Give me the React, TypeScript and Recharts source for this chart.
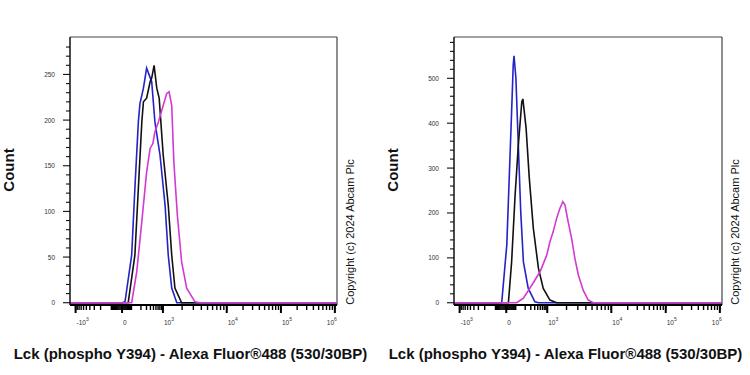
import React from 'react';
import { LineChart, Line, XAxis, YAxis, ReferenceLine } from 'recharts';

const FONT = '"Liberation Sans", Arial, Helvetica, sans-serif';

// Biexponential x axis: positions are display channels (0–1000 across the plot)
const xMajorChannels = [21, 195, 348, 587, 790, 992];
const xMajorBase = ['-10', '0', '10', '10', '10', '10'];
const xMajorExp = ['3', '', '3', '4', '5', '6'];

// Left panel histograms (x = display channel, y = count)
const leftBlueX = [0, 195, 206, 231, 243, 256, 262, 275, 287, 297, 306, 318, 337, 356, 368, 381, 400, 1000];
const leftBlueY = [0, 0, 1, 52, 125, 198, 218, 235, 257, 249, 242, 198, 162, 107, 52, 16, 0, 0];
const leftBlackX = [0, 218, 243, 256, 269, 275, 287, 300, 306, 315, 325, 334, 349, 368, 381, 393, 418, 1000];
const leftBlackY = [0, 0, 52, 125, 198, 220, 224, 242, 246, 260, 235, 224, 162, 107, 52, 16, 0, 0];
const leftMagentaX = [0, 231, 250, 269, 287, 300, 310, 318, 331, 349, 362, 371, 381, 389, 402, 418, 437, 468, 487, 1000];
const leftMagentaY = [0, 0, 34, 89, 143, 169, 174, 187, 198, 216, 229, 231, 216, 154, 96, 45, 16, 1, 0, 0];

// Right panel histograms
const rightBlueX = [0, 178, 197, 206, 215, 221, 224, 231, 240, 249, 259, 277, 302, 315, 1000];
const rightBlueY = [0, 0, 129, 277, 426, 530, 550, 500, 351, 203, 91, 32, 2, 0, 0];
const rightBlackX = [0, 203, 215, 228, 240, 253, 257, 269, 281, 296, 315, 333, 358, 383, 1000];
const rightBlackY = [0, 0, 91, 240, 351, 448, 454, 389, 277, 166, 77, 32, 6, 0, 0];
const rightMagentaX = [0, 234, 259, 290, 321, 346, 358, 370, 383, 395, 406, 414, 426, 439, 451, 464, 482, 501, 520, 1000];
const rightMagentaY = [0, 0, 10, 39, 69, 106, 136, 158, 188, 210, 225, 218, 180, 143, 99, 62, 28, 6, 0, 0];

const BLUE = '#2323c8';
const BLACK = '#111111';
const MAGENTA = '#d23ad2';

const xAxisTitle = 'Lck (phospho Y394) - Alexa Fluor®488 (530/30BP)';
const yAxisTitle = 'Count';
const copyright = 'Copyright (c) 2024 Abcam Plc';

function zip(xs: number[], ys: number[]) {
  return xs.map((x, i) => ({ x, y: ys[i] }));
}

function buildXMinor(): number[] {
  const [pNeg, p0, p3, p4, p5, p6] = xMajorChannels;
  const frac = (v: number) => (Math.log10(v) - 1.7) / 1.3;
  const p100 = p0 + (p3 - p0) * frac(100);
  const pm100 = p0 - (p0 - pNeg) * frac(100);
  const out: number[] = [];
  for (let k = 1; k <= 9; k++) {
    out.push(Math.round((p0 + (p3 - p0) * frac(k * 100)) * 10) / 10);
    out.push(Math.round((p0 - (p0 - pNeg) * frac(k * 100)) * 10) / 10);
    out.push(Math.round((p0 + ((p100 - p0) * k) / 10) * 10) / 10);
    out.push(Math.round((p0 - ((p0 - pm100) * k) / 10) * 10) / 10);
  }
  [[p3, p4], [p4, p5], [p5, p6]].forEach(([a, b]) => {
    for (let k = 2; k <= 9; k++) out.push(Math.round((a + (b - a) * Math.log10(k)) * 10) / 10);
  });
  return out;
}

const xTicks = [...xMajorChannels, ...buildXMinor()].sort((a, b) => a - b);

const renderXTick = (props: any) => {
  const { x, y, payload } = props;
  const mi = xMajorChannels.indexOf(payload.value);
  const major = mi >= 0;
  const last = mi === xMajorChannels.length - 1;
  if (!major) return <g />;
  return (
    <g>
      <rect x={x - 1} y={y - 5} width={2} height={8} fill="#000" stroke="none" />
      <text
        x={last ? x + 2 : x + 1}
        y={y + 15}
        textAnchor={last ? 'end' : 'start'}
        fontSize={6.5}
        fontFamily={FONT}
        fill="#333"
        stroke="none"
      >
        {xMajorBase[mi]}
        {xMajorExp[mi] && (
          <tspan fontSize={5} dy={-4}>
            {xMajorExp[mi]}
          </tspan>
        )}
      </text>
    </g>
  );
};

const makeYTick = (step: number) => (props: any) => {
  const { x, y, payload } = props;
  const major = payload.value % step === 0;
  return (
    <g>
      <rect x={x - (major ? 7 : 4)} y={y - 0.55} width={major ? 7 : 4} height={1.1} fill="#111" stroke="none" />
      {major && (
        <text x={x - 15} y={y} textAnchor="end" dominantBaseline="central" fontSize={6.5} fontFamily={FONT} fill="#333" stroke="none">
          {payload.value}
        </text>
      )}
    </g>
  );
};

function range(start: number, end: number, step: number) {
  const r: number[] = [];
  for (let v = start; v <= end; v += step) r.push(v);
  return r;
}

type PanelProps = {
  yAxisWidth: number;
  marginRight: number;
  yDomain: [number, number];
  yTicks: number[];
  yStep: number;
  blue: { x: number; y: number }[];
  black: { x: number; y: number }[];
  magenta: { x: number; y: number }[];
};

function Panel(p: PanelProps) {
  return (
    <LineChart width={375} height={375} margin={{ top: 37, right: p.marginRight, bottom: 40, left: 0 }}>
      <XAxis
        type="number"
        dataKey="x"
        domain={[0, 1000]}
        ticks={xTicks}
        interval={0}
        minTickGap={0}
        tickSize={5}
        tickMargin={0}
        tickLine={{ stroke: '#000', strokeWidth: 1.4 }}
        tick={renderXTick}
        height={30}
        axisLine={{ stroke: '#000', strokeWidth: 2 }}
        allowDataOverflow
      />
      <YAxis
        type="number"
        dataKey="y"
        domain={p.yDomain}
        ticks={p.yTicks}
        interval={0}
        tickSize={0}
        tickMargin={0}
        tickLine={false}
        tick={makeYTick(p.yStep)}
        width={p.yAxisWidth}
        axisLine={{ stroke: '#111', strokeWidth: 1.5 }}
        allowDataOverflow
      />
      <ReferenceLine y={p.yDomain[1]} stroke="#444" strokeWidth={1.2} />
      <ReferenceLine x={1000} stroke="#444" strokeWidth={1.2} />
      <Line data={p.blue} dataKey="y" type="linear" stroke={BLUE} strokeWidth={1.6} dot={false} isAnimationActive={false} />
      <Line data={p.black} dataKey="y" type="linear" stroke={BLACK} strokeWidth={1.6} dot={false} isAnimationActive={false} />
      <Line data={p.magenta} dataKey="y" type="linear" stroke={MAGENTA} strokeWidth={1.6} dot={false} isAnimationActive={false} />
    </LineChart>
  );
}

export default function App() {
  return (
    <div style={{ position: 'absolute', left: 0, top: 0, width: 750, height: 375, background: '#fff', overflow: 'hidden' }}>
      <div style={{ position: 'absolute', left: 0, top: 0 }}>
        <Panel
          yAxisWidth={70}
          marginRight={38}
          yDomain={[-2.5, 291]}
          yTicks={range(0, 280, 10)}
          yStep={50}
          blue={zip(leftBlueX, leftBlueY)}
          black={zip(leftBlackX, leftBlackY)}
          magenta={zip(leftMagentaX, leftMagentaY)}
        />
      </div>
      <div style={{ position: 'absolute', left: 375, top: 0 }}>
        <Panel
          yAxisWidth={79}
          marginRight={28}
          yDomain={[-5, 592]}
          yTicks={range(0, 580, 20)}
          yStep={100}
          blue={zip(rightBlueX, rightBlueY)}
          black={zip(rightBlackX, rightBlackY)}
          magenta={zip(rightMagentaX, rightMagentaY)}
        />
      </div>
      <svg width={750} height={375} style={{ position: 'absolute', left: 0, top: 0, pointerEvents: 'none' }}>
        <g fontFamily={FONT} fill="#111">
          <text x={8} y={170} transform="rotate(-90 8 170)" textAnchor="middle" dominantBaseline="central" fontSize={15} fontWeight="bold">
            {yAxisTitle}
          </text>
          <text x={392} y={170} transform="rotate(-90 392 170)" textAnchor="middle" dominantBaseline="central" fontSize={15} fontWeight="bold">
            {yAxisTitle}
          </text>
          <text x={190.5} y={358.5} textAnchor="middle" fontSize={15} fontWeight="bold">
            {xAxisTitle}
          </text>
          <text x={565.5} y={358.5} textAnchor="middle" fontSize={15} fontWeight="bold">
            {xAxisTitle}
          </text>
          <text x={350} y={232} transform="rotate(-90 350 232)" textAnchor="middle" dominantBaseline="central" fontSize={11}>
            {copyright}
          </text>
          <text x={735} y={232} transform="rotate(-90 735 232)" textAnchor="middle" dominantBaseline="central" fontSize={11}>
            {copyright}
          </text>
        </g>
      </svg>
    </div>
  );
}
